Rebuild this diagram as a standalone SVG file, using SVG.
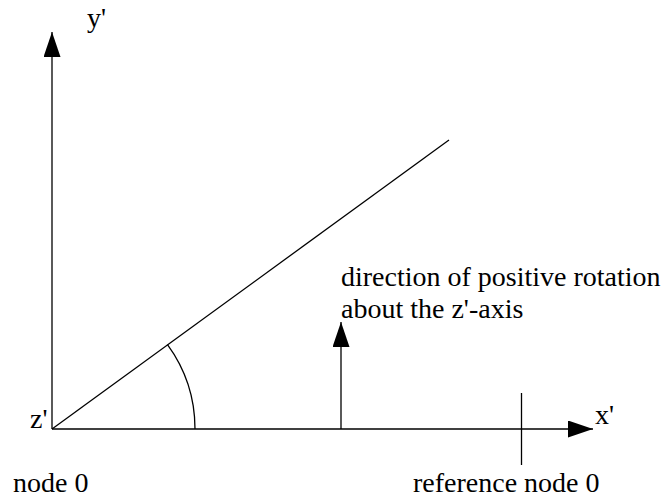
<svg xmlns="http://www.w3.org/2000/svg" width="663" height="500" viewBox="0 0 663 500">
<defs>
<style>
.ln{stroke:#000;stroke-width:1.3;fill:none}
.t{font-family:"Liberation Serif","Times New Roman",serif;font-size:28px;fill:#000}
</style>
<marker id="ah" markerWidth="25" markerHeight="17" refX="25" refY="8.5" orient="auto" markerUnits="userSpaceOnUse">
<path d="M0,0 L25,8.5 L0,17 Z" fill="#000"/>
</marker>
</defs>
<rect width="663" height="500" fill="#fff"/>
<g id="connectors">
<line class="ln" x1="52" y1="429" x2="52" y2="32" marker-end="url(#ah)"/>
<line class="ln" x1="52" y1="429" x2="593" y2="429" marker-end="url(#ah)"/>
<line class="ln" x1="52" y1="429" x2="449" y2="140"/>
<line class="ln" x1="521.5" y1="393" x2="521.5" y2="465"/>
<line class="ln" x1="341" y1="429" x2="341" y2="322" marker-end="url(#ah)"/>
<path class="ln" d="M167.5,344.7 A143,143 0 0 1 195,429"/>
</g>
<g id="labels">
<text class="t" x="87" y="27">y'</text>
<text class="t" x="30" y="428">z'</text>
<text class="t" x="595" y="424">x'</text>
<text class="t" x="13" y="492">node 0</text>
<text class="t" x="413" y="492">reference node 0</text>
<text class="t" x="341" y="286">direction of positive rotation</text>
<text class="t" x="341" y="318">about the z'-axis</text>
</g>
</svg>
